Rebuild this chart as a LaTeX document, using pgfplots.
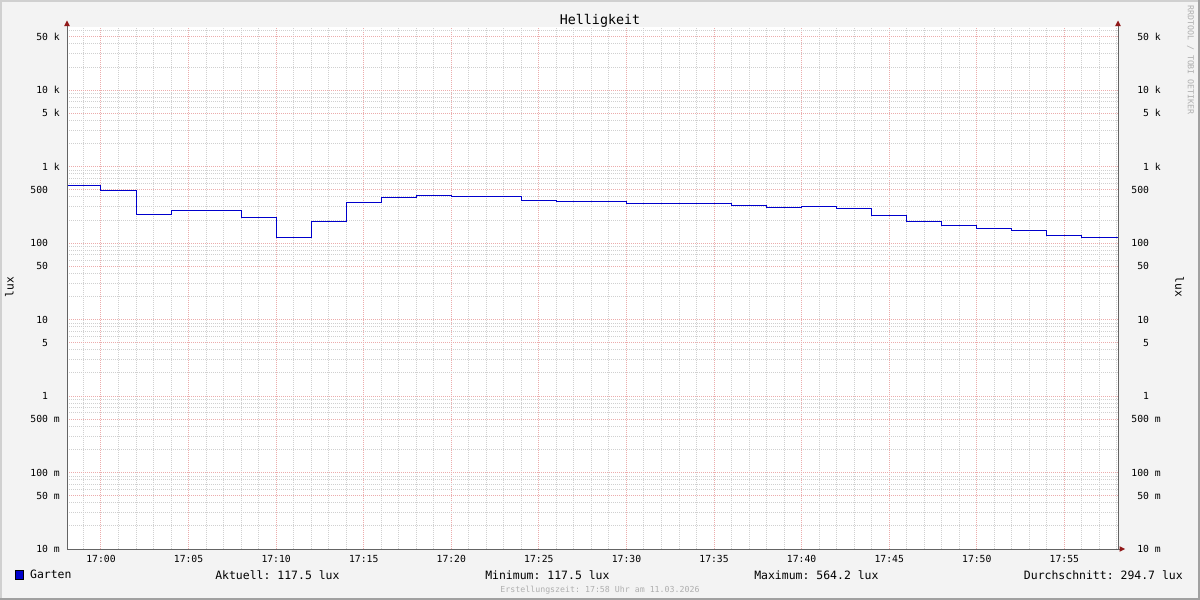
\documentclass[border=0pt]{standalone}
\usepackage{fontspec}
\setmainfont{DejaVu Sans Mono}
\usepackage{pgfplots}
\pgfplotsset{compat=1.18}

\definecolor{rrdback}{RGB}{243,243,243}
\definecolor{shadea}{RGB}{208,208,208}
\definecolor{shadeb}{RGB}{160,160,160}
\definecolor{mgridc}{RGB}{236,172,172}
\definecolor{gridc}{RGB}{208,208,208}
\definecolor{axisc}{RGB}{100,100,100}
\definecolor{arrowc}{RGB}{145,25,25}
\definecolor{linec}{RGB}{0,0,204}
\definecolor{faint}{RGB}{175,175,175}

% Helligkeit Garten, minutes after 17:00
\pgfplotstableread{
t     lux
-1.94 564.2
0     493
2     239
4     264
8     217
10    117.5
12    192
14    340
16    399
18    424
20    411
24    361
26    351
30    330
36    311
38    293
40    302
42    284
44    232
46    194
48    167
50    157
52    144
54    127
56    117.5
58.06 117.5
}\garten

\begin{document}
\frenchspacing
\begin{tikzpicture}
\begin{scope}[x=0.75pt,y=-0.75pt]
  \useasboundingbox (0,0) rectangle (1200,600);
  \fill[rrdback] (0,0) rectangle (1200,600);
  \fill[shadea] (0,0) rectangle (1200,2);
  \fill[shadea] (0,0) rectangle (2,600);
  \fill[shadeb] (0,598) rectangle (1200,600);
  \fill[shadeb] (1198,0) rectangle (1200,600);
  \coordinate (axsw) at (67,549);
\end{scope}

\begin{axis}[
  at={(axsw)}, anchor=south west,
  width=788.25pt, height=391.5pt, scale only axis,
  xmin=-1.94, xmax=58.06,
  ymode=log, ymin=0.01, ymax=66700,
  axis line style={draw=none},
  major tick length=0pt, minor tick length=0pt,
  tick label style={font=\fontsize{7.3}{8}\selectfont},
  ytick={0.01,0.05,0.1,0.5,1,5,10,50,100,500,1000,5000,10000,50000},
  yticklabels={10 m,50 m,100 m,500 m,1\phantom{ m},5\phantom{ m},10\phantom{ m},50\phantom{ m},100\phantom{ m},500\phantom{ m},1 k,5 k,10 k,50 k},
  axis background/.style={fill=white},
  clip=false,
  xtick={0,5,...,55},
  xticklabels={17:00,17:05,17:10,17:15,17:20,17:25,17:30,17:35,17:40,17:45,17:50,17:55},
  minor xtick={-1,1,2,3,4,6,7,8,9,11,12,13,14,16,17,18,19,21,22,23,24,26,27,28,29,31,32,33,34,36,37,38,39,41,42,43,44,46,47,48,49,51,52,53,54,56,57,58},
  minor ytick={0.02,0.03,0.04,0.06,0.07,0.08,0.09,0.2,0.3,0.4,0.6,0.7,0.8,0.9,2,3,4,6,7,8,9,20,30,40,60,70,80,90,200,300,400,600,700,800,900,2000,3000,4000,6000,7000,8000,9000,20000,30000,40000,60000},
  grid=both,
  major grid style={mgridc, line width=0.75pt, dash pattern=on 0.75pt off 0.75pt},
  minor grid style={gridc, line width=0.75pt, dash pattern=on 0.75pt off 0.75pt},
  yticklabel style={anchor=east, inner sep=0pt, xshift=-5.25pt},
  xticklabel style={anchor=north, inner sep=0pt, yshift=-4.5pt},
  legend style={at={(axis description cs:-0.0495,-0.0498)}, anchor=west,
    draw=none, fill=none, inner sep=0pt, outer sep=0pt,
    font=\fontsize{8.6}{10}\selectfont,
    /tikz/every odd column/.append style={column sep=2.4pt}},
  legend image code/.code={\draw[fill=linec, draw=black, line width=0.75pt] (0pt,-3.1pt) rectangle (6.2pt,3.1pt);},
]
\addplot[const plot, color=linec, line width=0.75pt] table[x=t, y=lux] {\garten};
\addlegendentry{Garten}
\end{axis}

\begin{axis}[
  at={(axsw)}, anchor=south west,
  width=788.25pt, height=391.5pt, scale only axis,
  xmin=-1.94, xmax=58.06,
  ymode=log, ymin=0.01, ymax=66700,
  axis line style={draw=none},
  major tick length=0pt, minor tick length=0pt,
  tick label style={font=\fontsize{7.3}{8}\selectfont},
  ytick={0.01,0.05,0.1,0.5,1,5,10,50,100,500,1000,5000,10000,50000},
  yticklabels={10 m,50 m,100 m,500 m,1\phantom{ m},5\phantom{ m},10\phantom{ m},50\phantom{ m},100\phantom{ m},500\phantom{ m},1 k,5 k,10 k,50 k},
  xtick=\empty,
  yticklabel pos=right,
  yticklabel style={anchor=east, inner sep=0pt, xshift=32.25pt},
]
\end{axis}

\begin{scope}[x=0.75pt,y=-0.75pt]
  \draw[axisc, line width=0.75pt] (67,549) -- (67,26);
  \draw[axisc, line width=0.75pt] (1118,549) -- (1118,26);
  \draw[axisc, line width=0.75pt] (67,549) -- (1120,549);
  \fill[arrowc] (64.2,26) -- (69.8,26) -- (67,20.5) -- cycle;
  \fill[arrowc] (1115.2,26) -- (1120.8,26) -- (1118,20.5) -- cycle;
  \fill[arrowc] (1119.5,546.2) -- (1119.5,551.8) -- (1125,549) -- cycle;

  \node[anchor=base, inner sep=0pt, font=\fontsize{10}{12}\selectfont] at (600,24) {Helligkeit};
  \node[rotate=-90, anchor=west, inner sep=0pt, text=faint, font=\fontsize{6.2}{7}\selectfont] at (1190.5,5) {RRDTOOL / TOBI OETIKER};
  \node[rotate=90, inner sep=0pt, font=\fontsize{8.4}{10}\selectfont] at (9.5,287) {lux};
  \node[rotate=-90, inner sep=0pt, font=\fontsize{8.4}{10}\selectfont] at (1179.5,287) {lux};

  \node[anchor=base west, inner sep=0pt, font=\fontsize{8.6}{10}\selectfont] at (215,579) {Aktuell: 117.5 lux};
  \node[anchor=base west, inner sep=0pt, font=\fontsize{8.6}{10}\selectfont] at (485,579) {Minimum: 117.5 lux};
  \node[anchor=base west, inner sep=0pt, font=\fontsize{8.6}{10}\selectfont] at (754,579) {Maximum: 564.2 lux};
  \node[anchor=base east, inner sep=0pt, font=\fontsize{8.6}{10}\selectfont] at (1183,579) {Durchschnitt: 294.7 lux};
  \node[anchor=base, inner sep=0pt, text=faint, font=\fontsize{6.2}{7}\selectfont] at (600,592) {Erstellungszeit: 17:58 Uhr am 11.03.2026};
\end{scope}
\end{tikzpicture}
\end{document}
